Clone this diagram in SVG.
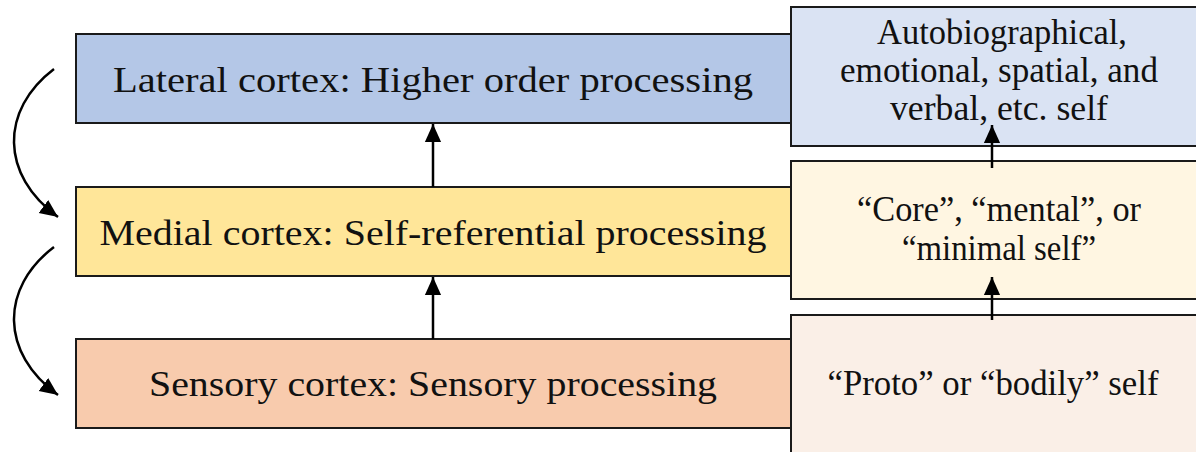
<svg xmlns="http://www.w3.org/2000/svg" width="1196" height="452" viewBox="0 0 1196 452">
<style>
.box{stroke:#1a1a1a;stroke-width:2}
.t{font-family:"Liberation Serif","DejaVu Serif",serif;font-size:35px;fill:#111;text-anchor:middle}
.c{fill:none;stroke:#000;stroke-width:2.5}
</style>
<defs>
<marker id="ah" viewBox="0 0 10 10" refX="9" refY="5" markerWidth="6" markerHeight="6" markerUnits="userSpaceOnUse" orient="auto">
<path d="M0,0 L10,5 L0,10 z" fill="#000"/>
</marker>
<marker id="a" viewBox="0 0 10 10" refX="10" refY="5" markerWidth="18" markerHeight="18" markerUnits="userSpaceOnUse" orient="auto">
<path d="M0,0.5 L10,5 L0,9.5 z" fill="#000"/>
</marker>
</defs>
<rect width="1196" height="452" fill="#fff"/>
<g id="lateral"><rect class="box" x="76" y="34" width="716" height="89" fill="#b4c7e7"/>
<text class="t" x="433" y="92" textLength="640" lengthAdjust="spacingAndGlyphs">Lateral cortex: Higher order processing</text></g>
<g id="medial"><rect class="box" x="76" y="187" width="716" height="89" fill="#ffe699"/>
<text class="t" x="433" y="245" textLength="667" lengthAdjust="spacingAndGlyphs">Medial cortex: Self-referential processing</text></g>
<g id="sensory"><rect class="box" x="76" y="339" width="716" height="89" fill="#f8cbad"/>
<text class="t" x="433" y="396" textLength="568" lengthAdjust="spacingAndGlyphs">Sensory cortex: Sensory processing</text></g>
<g id="autobio"><rect class="box" x="791" y="7" width="420" height="139" fill="#dae3f3"/>
<text class="t" x="1002" y="44" textLength="250" lengthAdjust="spacingAndGlyphs">Autobiographical,</text>
<text class="t" x="999" y="82" textLength="318" lengthAdjust="spacingAndGlyphs">emotional, spatial, and</text>
<text class="t" x="999" y="120" textLength="218" lengthAdjust="spacingAndGlyphs">verbal, etc. self</text></g>
<g id="core"><rect class="box" x="791" y="161" width="420" height="138" fill="#fff6e2"/>
<text class="t" x="999" y="221" textLength="284" lengthAdjust="spacingAndGlyphs">“Core”, “mental”, or</text>
<text class="t" x="999" y="260" textLength="194" lengthAdjust="spacingAndGlyphs">“minimal self”</text></g>
<g id="proto"><rect class="box" x="791" y="315" width="420" height="150" fill="#faefe7"/>
<text class="t" x="993" y="395" textLength="331" lengthAdjust="spacingAndGlyphs">“Proto” or “bodily” self</text></g>
<g id="connectors">
<line class="c" x1="433" y1="187" x2="433" y2="124" marker-end="url(#a)"/>
<line class="c" x1="433" y1="339" x2="433" y2="277" marker-end="url(#a)"/>
<line class="c" x1="992" y1="168" x2="992" y2="125" marker-end="url(#a)"/>
<line class="c" x1="992" y1="320" x2="992" y2="277" marker-end="url(#a)"/>
<path class="c" d="M54,69 C0,110 0,175 58,217" marker-end="url(#a)"/>
<path class="c" d="M54,247 C0,288 0,353 58,395" marker-end="url(#a)"/>
</g>
</svg>
